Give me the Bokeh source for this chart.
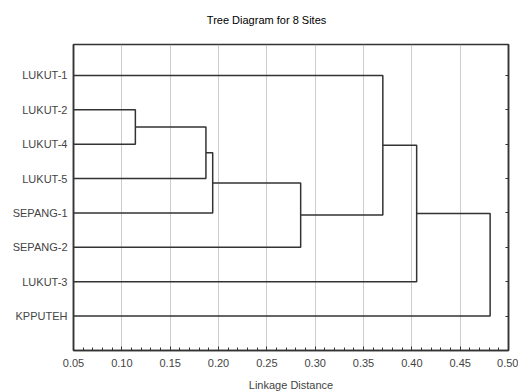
from bokeh.plotting import figure
from bokeh.models import Range1d, LinearAxis, FixedTicker, SingleIntervalTicker, CustomJSTickFormatter
from bokeh.embed import file_html
from bokeh.resources import INLINE

# Data
title_text = "Tree Diagram for 8 Sites"
labels = ["LUKUT-1", "LUKUT-2", "LUKUT-4", "LUKUT-5", "SEPANG-1", "SEPANG-2", "LUKUT-3", "KPPUTEH"]
# merges: node ids (leaves 0..7, clusters 8..)
merge_a = [1, 8, 9, 10, 0, 12, 13]
merge_b = [2, 3, 4, 5, 11, 6, 7]
heights = [0.114, 0.187, 0.194, 0.285, 0.370, 0.405, 0.481]

FONT = "Liberation Sans"
LINE = "#333333"

p = figure(width=518, height=392, frame_width=435, frame_height=306,
           output_backend="svg", toolbar_location=None,
           x_range=Range1d(0.05, 0.50), y_range=Range1d(9.0, 0.1),
           min_border_left=73, min_border_right=10, min_border_top=44, min_border_bottom=42)

# dendrogram geometry from data
leaf_x = 0.05
node_x = {i: leaf_x for i in range(len(labels))}
node_y = {i: i + 1 for i in range(len(labels))}
xs, ys = [], []
for k, (a, b, h) in enumerate(zip(merge_a, merge_b, heights)):
    xs.append([node_x[a], h, h, node_x[b]])
    ys.append([node_y[a], node_y[a], node_y[b], node_y[b]])
    nid = len(labels) + k
    node_x[nid] = h
    node_y[nid] = (node_y[a] + node_y[b]) / 2
p.multi_line(xs, ys, line_color=LINE, line_width=1.5)

# bottom x axis
xa = p.below[0]
xa.ticker = SingleIntervalTicker(interval=0.05, num_minor_ticks=5)
xa.formatter = CustomJSTickFormatter(code="return tick.toFixed(2);")
xa.axis_label = "Linkage Distance"
xa.axis_label_text_font = FONT
xa.axis_label_text_font_size = "11px"
xa.axis_label_text_font_style = "normal"
xa.axis_label_standoff = 9
xa.major_label_text_font = FONT
xa.major_label_text_font_size = "11px"
xa.major_label_standoff = 8
xa.major_tick_out = 0
xa.major_tick_in = 4
xa.minor_tick_out = 0
xa.minor_tick_in = 3
xa.axis_line_color = LINE
xa.major_tick_line_color = LINE
xa.minor_tick_line_color = LINE
xa.axis_line_width = 1.5

# left y axis (labels)
ya = p.left[0]
ya.ticker = FixedTicker(ticks=list(range(1, len(labels) + 1)))
ya.major_label_overrides = {i + 1: lab for i, lab in enumerate(labels)}
ya.major_label_text_font = FONT
ya.major_label_text_font_size = "11px"
ya.major_label_standoff = 6
ya.major_tick_out = 0
ya.major_tick_in = 0
ya.minor_tick_line_color = None
ya.axis_line_color = LINE
ya.axis_line_width = 1.5

# title drawn as the label of a bare axis above the frame
ta = LinearAxis(ticker=FixedTicker(ticks=[]))
ta.axis_line_color = None
ta.major_tick_line_color = None
ta.minor_tick_line_color = None
ta.major_tick_in = 0
ta.major_tick_out = 0
ta.major_label_text_font_size = "0px"
ta.major_label_standoff = 0
ta.axis_label = title_text + "\u00a0" * 16
ta.axis_label_text_font = FONT
ta.axis_label_text_font_size = "11px"
ta.axis_label_text_font_style = "normal"
ta.axis_label_text_color = "black"
ta.axis_label_standoff = 19
p.add_layout(ta, "above")

# right axis with inward ticks
ra = LinearAxis(ticker=FixedTicker(ticks=list(range(1, len(labels) + 1))))
ra.major_label_text_font_size = "0px"
ra.major_label_text_color = None
ra.major_label_standoff = 0
ra.major_tick_out = 0
ra.major_tick_in = 3
ra.minor_tick_line_color = None
ra.axis_line_color = LINE
ra.axis_line_width = 1.5
ra.major_tick_line_color = LINE
p.add_layout(ra, "right")

p.outline_line_color = LINE
p.outline_line_width = 1.5

p.ygrid.grid_line_color = None
p.xgrid.ticker = SingleIntervalTicker(interval=0.05)
p.xgrid.grid_line_color = "#999999"
p.xgrid.grid_line_dash = "1 1"
p.xgrid.grid_line_width = 1

open("out.html", "w").write(file_html(p, INLINE))
